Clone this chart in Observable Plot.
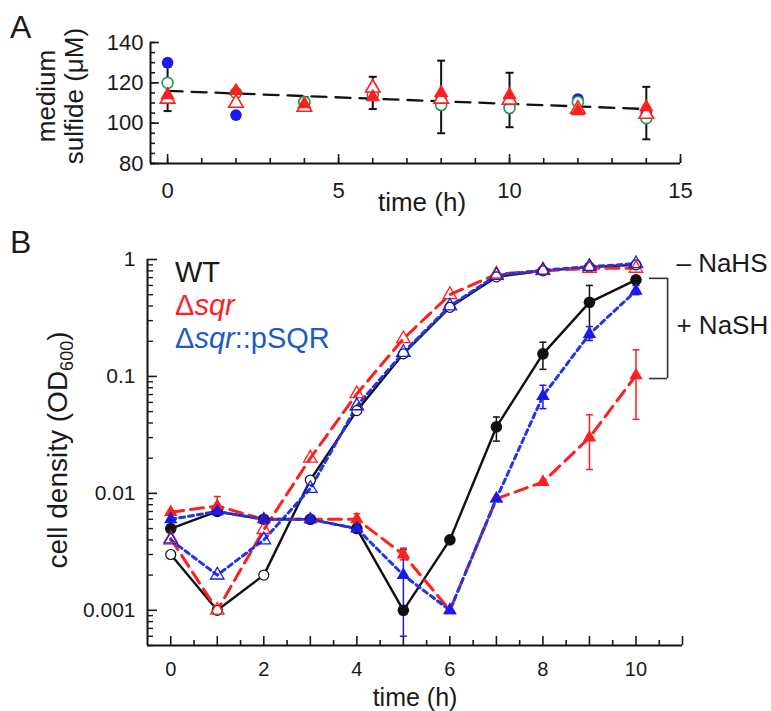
<!DOCTYPE html>
<html><head><meta charset="utf-8">
<script src="https://cdn.jsdelivr.net/npm/d3@7"></script>
<script src="https://cdn.jsdelivr.net/npm/@observablehq/plot@0.6"></script>
<style>
body{margin:0;background:#fff;}
#fig{position:relative;width:771px;height:711px;background:#fff;}
#fig svg{display:block;}
</style></head><body><div id="fig"></div>
<script>
// ---------- Panel A: medium sulfide ----------
const timeA = [0, 2, 4, 6, 8, 10, 12, 14];
const sulfideBlue = [130, 104, 110, 114, 112, 111, 112, 105];
const sulfideGreen = [120, 115, 110.5, 114, 109, 107.5, 110.5, 102.5];
const sulfideRedFilled = [114, 116, 109.5, 113, 115, 114, 106, 108];
const sulfideRedOpen = [112, 110, 108, 117.5, 112, 111.5, 107, 104.5];
const sulfideErrLow = [106, null, 106.5, 107, 95, 98, null, 92];
const sulfideErrHigh = [128, null, 113, 123, 131, 125, null, 118];
const fitTime = [0, 14];
const fitSulfide = [116, 107];
const xDomainA = [-0.5, 15];
const yDomainA = [80, 140];
const xLabelTicksA = [0, 5, 10, 15];
const yLabelTicksA = [80, 100, 120, 140];

// ---------- Panel B: growth ----------
const timeB = [0, 1, 2, 3, 4, 5, 6, 7, 8, 9, 10];
const wtMinus   = [0.003, 0.001, 0.002, 0.013, 0.051, 0.156, 0.39, 0.71, 0.80, 0.86, 0.90];
const sqrMinus  = [0.0041, 0.001, 0.0049, 0.020, 0.071, 0.21, 0.50, 0.75, 0.80, 0.84, 0.84];
const compMinus = [0.004, 0.002, 0.004, 0.011, 0.056, 0.16, 0.40, 0.73, 0.81, 0.87, 0.92];
const wtPlus    = [0.005, 0.007, 0.006, 0.006, 0.005, 0.001, 0.004, 0.037, 0.156, 0.43, 0.67];
const sqrPlus   = [0.0069, 0.0078, 0.006, 0.006, 0.006, 0.003, 0.001, 0.009, 0.0125, 0.030, 0.102];
const compPlus  = [0.006, 0.007, 0.006, 0.006, 0.005, 0.002, 0.001, 0.009, 0.068, 0.23, 0.54];
const wtPlusErrLow    = [null, null, null, null, null, null, null, 0.028, 0.115, 0.214, null];
const wtPlusErrHigh   = [null, null, null, null, null, null, null, 0.045, 0.196, 0.60, null];
const sqrPlusErrLow   = [null, 0.0072, null, null, 0.0055, 0.0027, null, null, null, 0.016, 0.043];
const sqrPlusErrHigh  = [null, 0.0094, null, null, 0.0067, 0.0034, null, null, null, 0.047, 0.169];
const compPlusErrLow  = [null, null, null, null, null, 0.0006, null, null, 0.053, 0.203, 0.50];
const compPlusErrHigh = [null, null, null, null, null, 0.0033, null, null, 0.084, 0.267, 0.60];
const xDomainB = [-0.5, 11];
const yDomainB = [0.0005, 1];
const xLabelTicksB = [0, 2, 4, 6, 8, 10];
const yLabelTicksB = [0.001, 0.01, 0.1, 1];
const treatmentLabels = ["\u2013 NaHS", "+ NaSH"];
const treatmentLabelX = 10.87;
const treatmentLabelY = [0.92, 0.27];
const bracketX = [10.29, 10.68];
const bracketY = [0.096, 0.69];

// ---------- styling ----------
const font = "'Liberation Sans', Arial, Helvetica, sans-serif";
const RED = "#ff1f1f", BLUE = "#1a1aee", BLUELINE = "#2236e6", GREEN = "#1f9a52", BLACK = "#111";
const capSymbol = {draw(ctx, size) { const r = Math.sqrt(size / Math.PI); ctx.moveTo(-r, 0); ctx.lineTo(r, 0); }};
const noText = () => "";

const rows = (xs, vs) => xs.map((t, i) => ({t, v: vs[i]}));
const errRows = (xs, lo, hi) => xs.map((t, i) => ({t, lo: lo[i], hi: hi[i]})).filter(d => d.lo != null);
function errMarks(data, color, w, cap) {
  return [
    Plot.ruleX(data, {x: "t", y1: "lo", y2: "hi", stroke: color, strokeWidth: w}),
    Plot.dot(data, {x: "t", y: "lo", symbol: capSymbol, r: cap, stroke: color, strokeWidth: w, fill: "none"}),
    Plot.dot(data, {x: "t", y: "hi", symbol: capSymbol, r: cap, stroke: color, strokeWidth: w, fill: "none"})
  ];
}

// ---------- Panel A plot ----------
const errA = errRows(timeA, sulfideErrLow, sulfideErrHigh);
const plotA = Plot.plot({
  width: 771, height: 220,
  marginLeft: 150, marginRight: 91, marginTop: 42, marginBottom: 57,
  x: {domain: xDomainA, label: null},
  y: {domain: yDomainA, label: null},
  style: {fontFamily: font, fontSize: "22px", color: "#1a1a1a", background: "transparent", overflow: "visible"},
  marks: [
    Plot.line(rows(fitTime, fitSulfide), {x: "t", y: "v", stroke: BLACK, strokeWidth: 2.3, strokeDasharray: "15,9"}),
    ...errMarks(errA, BLACK, 2, 4),
    Plot.dot(rows(timeA, sulfideBlue), {x: "t", y: "v", r: 5.8, fill: BLUE, stroke: "none"}),
    Plot.dot(rows(timeA, sulfideGreen), {x: "t", y: "v", r: 5.5, fill: "white", stroke: GREEN, strokeWidth: 1.6}),
    Plot.dot(rows(timeA, sulfideRedOpen), {x: "t", y: "v", symbol: "triangle", r: 5.4, fill: "white", stroke: RED, strokeWidth: 1.6}),
    Plot.dot(rows(timeA, sulfideRedFilled), {x: "t", y: "v", symbol: "triangle", r: 5.4, fill: RED, stroke: "none"}),
    Plot.ruleX([xDomainA[0]], {stroke: BLACK, strokeWidth: 2}),
    Plot.ruleY([yDomainA[0]], {stroke: BLACK, strokeWidth: 2}),
    Plot.axisY(yLabelTicksA, {tickSize: 0, tickPadding: 7, fontSize: 22, label: null}),
    Plot.axisY(yLabelTicksA, {tickSize: -9, tickFormat: noText, label: null, strokeWidth: 1.6}),
    Plot.axisY(d3.range(80, 141, 5), {tickSize: -5, tickFormat: noText, label: null, strokeWidth: 1.6}),
    Plot.axisX(xLabelTicksA, {tickSize: 0, tickPadding: 19, fontSize: 22, label: null}),
    Plot.axisX(xLabelTicksA, {tickSize: -9, tickFormat: noText, label: null, strokeWidth: 1.6}),
    Plot.axisX(d3.range(0, 16, 1), {tickSize: -5, tickFormat: noText, label: null, strokeWidth: 1.6})
  ]
});

// ---------- Panel B plot ----------
const minorB = [];
for (const base of [0.0001, 0.001, 0.01, 0.1]) for (let k = 2; k <= 9; k++) {
  const v = +(base * k).toPrecision(3);
  if (v >= yDomainB[0] && v <= yDomainB[1]) minorB.push(v);
}
const plotB = Plot.plot({
  width: 771, height: 491,
  marginLeft: 147, marginRight: 89, marginTop: 39, marginBottom: 66,
  x: {domain: xDomainB, label: null},
  y: {type: "log", domain: yDomainB, label: null},
  style: {fontFamily: font, fontSize: "21px", color: "#1a1a1a", background: "transparent", overflow: "visible"},
  marks: [
    Plot.line(rows(timeB, wtMinus), {x: "t", y: "v", stroke: BLACK, strokeWidth: 2.4}),
    Plot.line(rows(timeB, sqrMinus), {x: "t", y: "v", stroke: RED, strokeWidth: 3, strokeDasharray: "13,7"}),
    Plot.line(rows(timeB, compMinus), {x: "t", y: "v", stroke: BLUELINE, strokeWidth: 3, strokeDasharray: "5,4"}),
    Plot.line(rows(timeB, wtPlus), {x: "t", y: "v", stroke: BLACK, strokeWidth: 2.4}),
    Plot.line(rows(timeB, sqrPlus), {x: "t", y: "v", stroke: RED, strokeWidth: 3, strokeDasharray: "13,7"}),
    Plot.line(rows(timeB, compPlus), {x: "t", y: "v", stroke: BLUELINE, strokeWidth: 3, strokeDasharray: "5,4"}),
    ...errMarks(errRows(timeB, wtPlusErrLow, wtPlusErrHigh), BLACK, 1.5, 3.5),
    ...errMarks(errRows(timeB, sqrPlusErrLow, sqrPlusErrHigh), RED, 1.5, 3.5),
    ...errMarks(errRows(timeB, compPlusErrLow, compPlusErrHigh), BLUE, 1.5, 3.5),
    Plot.dot(rows(timeB, wtMinus), {x: "t", y: "v", r: 5, fill: "white", stroke: BLACK, strokeWidth: 1.2}),
    Plot.dot(rows(timeB, wtPlus), {x: "t", y: "v", r: 5.8, fill: BLACK, stroke: "none"}),
    Plot.dot(rows(timeB, sqrMinus), {x: "t", y: "v", symbol: "triangle", r: 5, fill: "none", stroke: RED, strokeWidth: 1.3}),
    Plot.dot(rows(timeB, sqrPlus), {x: "t", y: "v", symbol: "triangle", r: 5, fill: RED, stroke: "none"}),
    Plot.dot(rows(timeB, compMinus), {x: "t", y: "v", symbol: "triangle", r: 5, fill: "none", stroke: BLUE, strokeWidth: 1.3}),
    Plot.dot(rows(timeB, compPlus), {x: "t", y: "v", symbol: "triangle", r: 5, fill: BLUE, stroke: "none"}),
    Plot.ruleX([xDomainB[0]], {stroke: BLACK, strokeWidth: 2}),
    Plot.ruleY([yDomainB[0]], {stroke: BLACK, strokeWidth: 2}),
    Plot.axisY(yLabelTicksB, {tickSize: 0, tickPadding: 12, fontSize: 21, label: null, tickFormat: d => String(d)}),
    Plot.axisY(yLabelTicksB, {tickSize: -10, tickFormat: noText, label: null, strokeWidth: 1.6}),
    Plot.axisY(minorB, {tickSize: -6, tickFormat: noText, label: null, strokeWidth: 1.4}),
    Plot.axisX(xLabelTicksB, {tickSize: 0, tickPadding: 16, fontSize: 20, label: null}),
    Plot.axisX(d3.range(0, 12, 1), {tickSize: -9, tickFormat: noText, label: null, strokeWidth: 1.6}),
    Plot.axisX(d3.range(0.5, 11, 1), {tickSize: -5, tickFormat: noText, label: null, strokeWidth: 1.6}),
    Plot.ruleX([bracketX[1]], {y1: bracketY[0], y2: bracketY[1], stroke: "#333", strokeWidth: 1.6}),
    Plot.ruleY(bracketY, {x1: bracketX[0], x2: bracketX[1], stroke: "#333", strokeWidth: 1.6}),
    Plot.text(treatmentLabels, {x: treatmentLabelX, y: (d, i) => treatmentLabelY[i], text: d => d, textAnchor: "start", fontSize: 26, fill: "#1a1a1a"})
  ]
});

const fig = document.getElementById("fig");
fig.appendChild(plotA);
fig.appendChild(plotB);

// ---------- annotations ----------
function txt(svg, x, y, str, opts = {}) {
  const t = d3.select(svg).append("text")
    .attr("x", x).attr("y", y)
    .attr("font-family", font)
    .attr("font-size", opts.size || 26)
    .attr("fill", opts.color || "#1a1a1a")
    .attr("text-anchor", opts.anchor || "start");
  if (opts.rotate) t.attr("x", null).attr("y", null).attr("transform", `translate(${x},${y}) rotate(-90)`);
  if (str != null) t.text(str);
  return t;
}
txt(plotA, 10, 38, "A", {size: 32});
txt(plotA, 55, 96, "medium", {rotate: true, anchor: "middle"});
txt(plotA, 83, 96, "sulfide (\u03bcM)", {rotate: true, anchor: "middle"});
txt(plotA, 422, 211, "time (h)", {anchor: "middle"});

txt(plotB, 10, 33, "B", {size: 32});
const yl = txt(plotB, 67, 230, null, {rotate: true, anchor: "middle", size: 28});
yl.append("tspan").text("cell density (OD");
yl.append("tspan").attr("font-size", 18).attr("dy", 6).text("600");
yl.append("tspan").attr("dy", -6).text(")");
txt(plotB, 415, 486, "time (h)", {anchor: "middle", size: 25});

txt(plotB, 175, 62, "WT", {size: 29});
const l2 = txt(plotB, 175, 95, null, {size: 29, color: RED});
l2.append("tspan").text("\u0394");
l2.append("tspan").attr("font-style", "italic").text("sqr");
const l3 = txt(plotB, 175, 128, null, {size: 29, color: "#1d5cc4"});
l3.append("tspan").text("\u0394");
l3.append("tspan").attr("font-style", "italic").text("sqr");
l3.append("tspan").text("::pSQR");
</script>
</body></html>
